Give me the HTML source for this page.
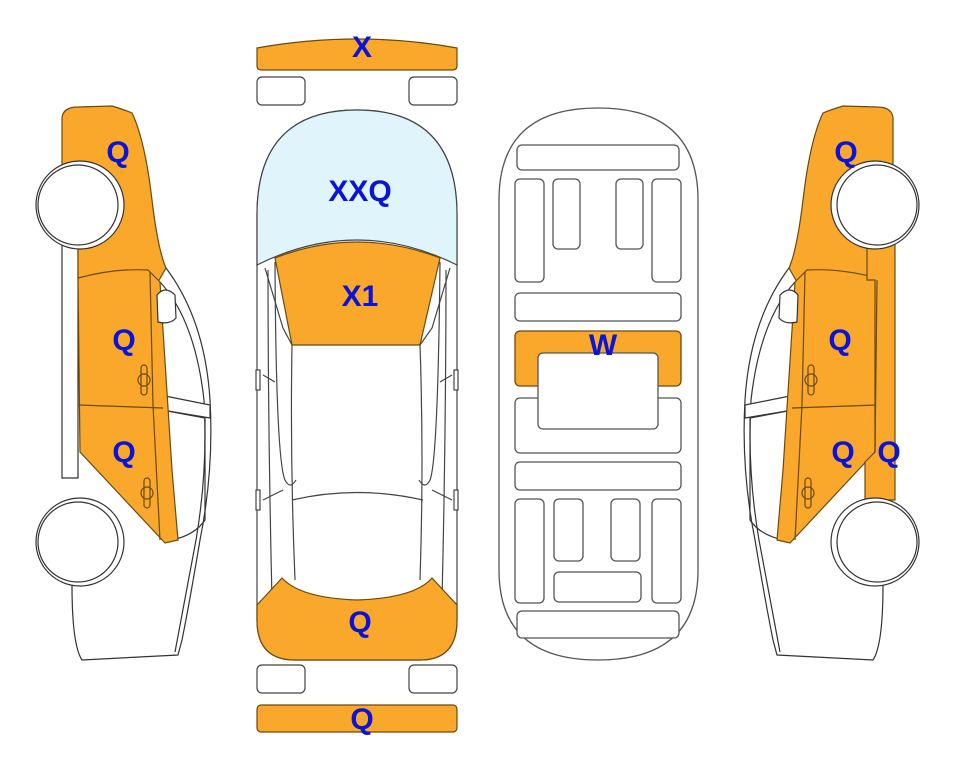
<!DOCTYPE html>
<html><head><meta charset="utf-8"><style>
html,body{margin:0;padding:0;background:#fff;}
svg{display:block;}
text{font-family:"Liberation Sans",Arial,sans-serif;font-weight:bold;fill:#0a14d8;text-anchor:middle;}
</style></head><body>
<svg width="963" height="768" viewBox="0 0 963 768" xmlns="http://www.w3.org/2000/svg">
<defs>
<g id="side" stroke="#333" stroke-width="1.2" fill="none">
  <path d="M166,268 Q205,320 210,400 Q214,470 200,540 Q190,600 182,640 L178,655 L82,660 Q72,645 72,585" fill="#fff"/>
  <path d="M160,282 Q195,320 204,400 Q208,470 196,540 Q185,600 175,652" />
  <path d="M62,244 L62,478 L78,478 L78,244" fill="#fff"/>
  <path d="M160,395 L210,405 L210,418 L162,410 Z" fill="#fff"/>
  <path d="M162,410 L205,418 L205,520 Q195,535 172,540" />
  <path d="M62,244 L62,118 Q63,107 78,107 L112,106 Q125,110 132,113 Q145,140 152,200 Q158,250 166,268 L158,282 L78,278 L78,244 Z" fill="#f9a82b" stroke="#6b4a10"/>
  <path d="M78,278 Q115,268 148,270 L160,282 L163,330 L172,470 L178,540 L165,543 L80,452 Z" fill="#f9a82b" stroke="#6b4a10"/>
  <path d="M78,405 L163,408" stroke="#6b4a10"/>
  <path d="M150,272 L153,405 L160,540" stroke="#6b4a10"/>
  <path d="M157,295 Q165,285 175,295 L176,318 Q170,325 158,322 Z" fill="#fff"/>
  <rect x="141" y="365" width="6" height="30" rx="3" stroke="#6b4a10"/>
  <circle cx="144" cy="380" r="6" stroke="#6b4a10"/>
  <rect x="144" y="478" width="6" height="30" rx="3" stroke="#6b4a10"/>
  <circle cx="147" cy="493" r="6" stroke="#6b4a10"/>
</g>
<g id="wheels" stroke="#333" stroke-width="1.2">
  <circle cx="80" cy="205" r="44" fill="#fff"/>
  <circle cx="78" cy="205" r="40" fill="#fff"/>
  <circle cx="80" cy="542" r="44" fill="#fff"/>
  <circle cx="78" cy="542" r="40" fill="#fff"/>
</g>
</defs>
<use href="#side"/>
<use href="#wheels"/>
<g transform="translate(955,0) scale(-1,1)">
  <use href="#side"/>
  <path d="M60,243 L88,243 L88,280 L80,280 L80,452 L90,462 L90,500 L60,500 Z" fill="#f9a82b" stroke="#6b4a10" stroke-width="1.2"/>
  <path d="M78,280 L80,452" stroke="#6b4a10" stroke-width="1.2"/>
  <use href="#wheels"/>
</g>

<g stroke="#444" stroke-width="1.2">
  <path d="M257,48 Q357,30 457,48 L457,66 Q457,70 452,70 L262,70 Q257,70 257,66 Z" fill="#f9a82b" stroke="#6b4a10"/>
  <rect x="257" y="77" width="48" height="28" rx="5" fill="#fff"/>
  <rect x="409" y="77" width="48" height="28" rx="5" fill="#fff"/>
  <rect x="257" y="665" width="48" height="28" rx="5" fill="#fff"/>
  <rect x="409" y="665" width="48" height="28" rx="5" fill="#fff"/>
  <rect x="257" y="705" width="200" height="27" rx="4" fill="#f9a82b" stroke="#6b4a10"/>
  <path d="M257,215 Q257,110 357,110 Q457,110 457,215 L457,620 Q457,660 420,660 L295,660 Q257,660 257,620 Z" fill="#fff"/>
  <path d="M257,265 L257,215 Q257,110 357,110 Q457,110 457,215 L457,265 Q357,215 257,265 Z" fill="#dff4fb"/>
  <path d="M275,258 Q357,226 440,258 L420,345 L292,345 Z" fill="#f9a82b" stroke="#6b4a10"/>
  <g fill="none">
  <path d="M265,268 L283,328 L292,345 Q290,460 295,580"/>
  <path d="M450,268 L432,328 L420,345 Q424,460 420,580"/>
  <path d="M268,270 Q268,430 272,600"/><path d="M446,270 Q446,430 442,600"/>
  <path d="M275,262 Q276,460 285,480 Q290,490 296,480"/>
  <path d="M440,262 Q438,460 430,480 Q425,490 419,480"/>
  <path d="M292,500 Q357,485 423,500"/>
  <path d="M263,375 L275,382"/><path d="M452,375 L440,382"/>
  <path d="M263,500 L283,490"/><path d="M452,500 L432,490"/>
  </g>
  <rect x="256" y="370" width="4" height="20" fill="#fff"/>
  <rect x="454" y="370" width="4" height="20" fill="#fff"/>
  <rect x="256" y="490" width="4" height="20" fill="#fff"/>
  <rect x="454" y="490" width="4" height="20" fill="#fff"/>
  <path d="M257,605 L282,578 Q300,598 357,600 Q415,598 432,578 L457,605 L457,620 Q457,660 420,660 L295,660 Q257,660 257,620 Z" fill="#f9a82b" stroke="#6b4a10"/>
</g>

<g stroke="#555" stroke-width="1.3" fill="#fff">
  <path d="M499,200 Q499,108 598,108 Q698,108 698,200 L698,570 Q698,660 598,660 Q499,660 499,570 Z"/>
  <rect x="517" y="145" width="162" height="25" rx="5"/>
  <rect x="515" y="179" width="29" height="103" rx="5"/>
  <rect x="553" y="179" width="27" height="70" rx="5"/>
  <rect x="616" y="179" width="27" height="70" rx="5"/>
  <rect x="652" y="179" width="29" height="103" rx="5"/>
  <rect x="515" y="293" width="166" height="28" rx="5"/>
  <rect x="515" y="398" width="166" height="55" rx="5"/>
  <rect x="515" y="331" width="166" height="55" rx="5" fill="#f9a82b" stroke="#6b4a10"/>
  <rect x="538" y="353" width="120" height="76" rx="5"/>
  <rect x="515" y="462" width="166" height="28" rx="5"/>
  <rect x="515" y="499" width="29" height="104" rx="5"/>
  <rect x="554" y="499" width="29" height="62" rx="5"/>
  <rect x="611" y="499" width="29" height="62" rx="5"/>
  <rect x="652" y="499" width="29" height="104" rx="5"/>
  <rect x="554" y="572" width="87" height="30" rx="5"/>
  <rect x="517" y="611" width="162" height="27" rx="5"/>
</g>

<g font-size="30">
<text x="362" y="57">X</text>
<text x="360" y="201">XXQ</text>
<text x="360" y="306">X1</text>
<text x="360" y="632">Q</text>
<text x="362" y="729">Q</text>
<text x="603" y="355">W</text>
<text x="118" y="162">Q</text>
<text x="124" y="350">Q</text>
<text x="124" y="462">Q</text>
<text x="846" y="162">Q</text>
<text x="840" y="350">Q</text>
<text x="843" y="462">Q</text>
<text x="889" y="462">Q</text>
</g>
</svg>
</body></html>
